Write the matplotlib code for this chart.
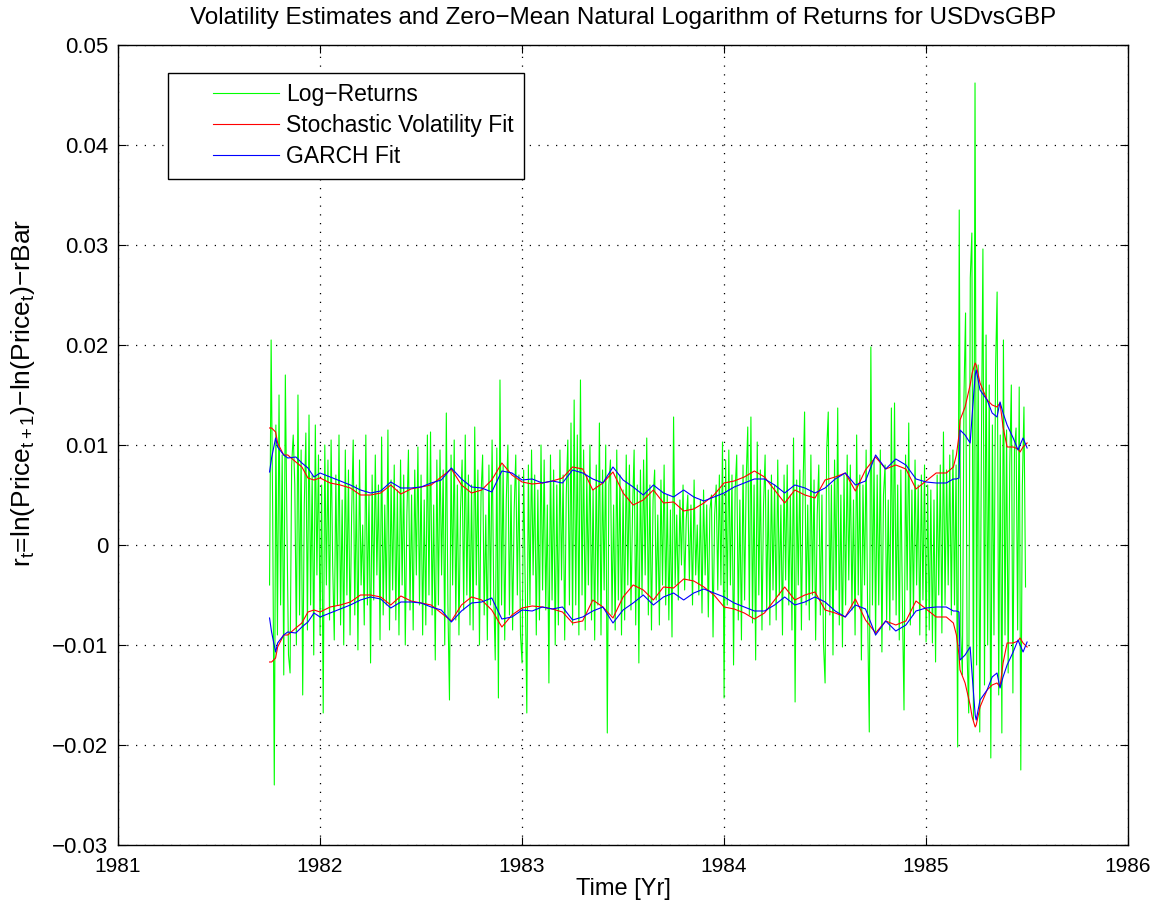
import numpy as np
import matplotlib
matplotlib.use('Agg')
import matplotlib.pyplot as plt
from matplotlib.lines import Line2D
from matplotlib.legend_handler import HandlerLine2D

# log-returns, units of 1e-4, 16 values per 1/8 year starting 1981.75
log_returns = [
    -40, 205, 30, -240, 120, -90, 150, -60, 90, -130, 170, 20, -110, -128, 80, 110,
    60, -100, 150, -70, 95, -150, 40, 112, -85, 130, -60, 70, -110, 120, -30, 90,
    -90, 60, -168, 100, -40, 85, -75, 105, -20, -95, 70, -60, 110, -80, 45, -100,
    95, -50, 75, -90, 30, 105, -70, 60, -105, 85, -40, 20, -80, 110, -60, 50,
    -118, 70, -55, 90, -30, 60, -95, 108, -70, 40, -60, 115, -85, 65, -45, 80,
    -75, 55, -90, 85, -40, 70, -100, 30, 95, -65, 50, -85, 75, -30, 98, -60,
    70, -90, 45, -80, 110, -50, 113, -70, 40, -115, 85, -60, 95, -30, 75, -100,
    132, -60, -155, 90, -40, 105, -75, 60, -90, 35, 85, -65, 110, -50, 70, -80,
    60, -85, 118, -40, 75, -100, 50, 90, -70, 30, -95, 80, -60, 105, -45, -115,
    97, -153, 165, -60, 80, -95, 45, 100, -70, 60, -85, 35, 90, -50, 70, -90,
    -118, 75, -40, -168, 80, -60, 95, -30, 70, -90, 55, -75, 100, -45, 85, -65,
    40, -138, 90, -55, 75, -100, 60, -80, 95, -35, 70, -95, 50, 105, -60, 122,
    -80, 145, -60, 110, -90, 165, -50, 95, -85, 70, -40, 100, -75, 55, -95, 80,
    -60, 122, -90, 75, -45, 100, -188, 60, 85, -70, 40, -85, 95, -55, 70, -90,
    55, -75, 90, -40, 80, -65, 35, 95, -80, 60, -118, 75, -50, 85, -30, 107,
    -70, 60, -85, 45, 75, -55, 30, -80, 65, -40, 80, -60, 50, -75, 35, -92,
    128, -40, 30, -55, 45, -20, 60, -45, 25, 50, -35, 40, -60, 65, -30, 20,
    -50, 45, -68, 55, -30, 40, -72, 35, 50, -92, 30, 60, -45, 70, -40, 103,
    -153, 85, -60, 95, -40, 70, -120, 55, 90, -75, 45, -95, 80, -55, 65, 118,
    -70, 128, -78, 60, -115, 103, -50, 75, -85, 40, 90, -65, 55, -80, 70, -45,
    60, -75, 85, -50, 40, -90, 70, -35, 80, -60, 50, -85, 107, -157, 65, -40,
    75, -85, 55, 133, -60, 40, -75, 90, -50, 65, -95, 30, 80, -70, 50, -100,
    -138, 95, 133, -70, 60, -110, 85, -45, 137, -80, 50, -102, 70, -60, 90, -35,
    80, -65, 45, -90, 110, -50, 70, -115, 60, -40, 95, -75, -187, 198, -60, 85,
    -90, 70, -60, 95, -107, 50, 80, -75, 45, -85, 137, -55, 142, -70, 60, -95,
    75, -60, -165, 90, -45, 122, -80, 55, -70, 85, -40, 60, -90, 70, -55, 80,
    -97, 60, -85, 55, -98, 45, -117, 70, -50, 80, -88, 113, -60, 75, -40, 90,
    -70, 95, -60, 80, -202, 335, -90, -130, 150, 232, -110, -168, 267, 312, -175, 462,
    -120, 180, -187, 90, 296, -140, 210, -100, 160, -213, 120, -90, 175, 253, -150, 110,
    -188, 205, -90, 115, -128, 80, 160, -148, 95, 117, -85, 158, -225, 60, 138, -42,
]

# volatility estimates (one std dev), units of 1e-4
vol_years = [1981.75, 1981.76, 1981.78, 1981.79, 1981.82, 1981.84, 1981.88, 1981.91,
             1981.94, 1981.97, 1982.00, 1982.05, 1982.10, 1982.15, 1982.20, 1982.25,
             1982.30, 1982.35, 1982.40, 1982.45, 1982.50, 1982.55, 1982.60, 1982.65,
             1982.70, 1982.75, 1982.80, 1982.85, 1982.90, 1982.95, 1983.00, 1983.05,
             1983.10, 1983.15, 1983.20, 1983.25, 1983.30, 1983.35, 1983.40, 1983.45,
             1983.50, 1983.55, 1983.60, 1983.65, 1983.70, 1983.75, 1983.80, 1983.85,
             1983.90, 1983.95, 1984.00, 1984.05, 1984.10, 1984.15, 1984.20, 1984.25,
             1984.30, 1984.35, 1984.40, 1984.45, 1984.50, 1984.55, 1984.60, 1984.65,
             1984.70, 1984.75, 1984.80, 1984.85, 1984.90, 1984.95, 1985.00, 1985.05,
             1985.10, 1985.135, 1985.15, 1985.163, 1985.168, 1985.193, 1985.218,
             1985.228, 1985.243, 1985.248, 1985.267, 1985.302, 1985.327, 1985.351,
             1985.366, 1985.381, 1985.401, 1985.431, 1985.455, 1985.465, 1985.48, 1985.50]
sv_fit = [117, 117, 113, 102, 90, 90, 83, 78, 67, 65, 67, 62, 60, 57, 50, 50,
          52, 60, 51, 56, 58, 60, 68, 76, 60, 52, 55, 65, 82, 70, 63, 61,
          62, 64, 67, 78, 76, 55, 62, 73, 52, 40, 45, 55, 42, 43, 34, 36,
          42, 50, 62, 64, 68, 74, 68, 55, 42, 55, 50, 47, 65, 68, 72, 54,
          75, 88, 76, 80, 76, 56, 64, 72, 72, 78, 90, 110, 125, 138, 160,
          172, 182, 180, 162, 145, 140, 138, 142, 118, 98, 98, 96, 93, 98, 102]
garch_fit = [73, 87, 107, 98, 90, 87, 88, 82, 77, 68, 72, 68, 64, 60, 55, 52,
             54, 63, 57, 57, 58, 62, 65, 77, 66, 58, 57, 53, 74, 72, 65, 66,
             62, 64, 62, 75, 72, 66, 62, 78, 65, 58, 50, 60, 52, 48, 55, 48,
             44, 48, 52, 58, 62, 66, 66, 60, 52, 60, 57, 52, 57, 66, 72, 60,
             64, 90, 76, 86, 80, 66, 63, 62, 62, 66, 66, 67, 115, 110, 102,
             130, 170, 175, 155, 145, 132, 128, 143, 132, 120, 107, 95, 100, 107, 97]

r = np.array(log_returns) / 1e4
t = 1981.75 + np.arange(len(r)) * 0.125 / 16
sv = np.array(sv_fit) / 1e4
ga = np.array(garch_fit) / 1e4

plt.rcParams['font.family'] = 'Liberation Sans'
plt.rcParams['mathtext.fontset'] = 'custom'
plt.rcParams['mathtext.rm'] = 'Liberation Sans'
plt.rcParams['mathtext.it'] = 'Liberation Sans:italic'


class ShortLine(HandlerLine2D):
    # legend line drawn only over the right part of the handle box
    def create_artists(self, legend, orig_handle, xdescent, ydescent, width, height, fontsize, trans):
        arts = super().create_artists(legend, orig_handle, xdescent, ydescent, width, height, fontsize, trans)
        for a in arts:
            x = np.asarray(a.get_xdata(), dtype=float)
            if len(x) > 1:
                a.set_xdata(np.linspace(x[0] + 0.34 * (x[-1] - x[0]), x[-1], len(x)))
        return arts


fig = plt.figure(figsize=(11.63, 9.05), dpi=100)
ax = fig.add_axes([0.1015, 0.0663, 0.8685, 0.884])

ax.plot(t, r, color='#00ff00', lw=0.8, label='Log\u2212Returns')
ax.plot(vol_years, sv, color='#ff0000', lw=0.8, label='Stochastic Volatility Fit')
ax.plot(vol_years, -sv, color='#ff0000', lw=0.8)
ax.plot(vol_years, ga, color='#0000ff', lw=0.8, label='GARCH Fit')
ax.plot(vol_years, -ga, color='#0000ff', lw=0.8)

ax.set_xlim(1981, 1986)
ax.set_ylim(-0.03, 0.05)
ax.set_xticks([1981, 1982, 1983, 1984, 1985, 1986])
ax.set_xticklabels(['1981', '1982', '1983', '1984', '1985', '1986'], fontsize=15)
ax.set_yticks(np.arange(-0.03, 0.0501, 0.01))
ax.set_yticklabels(['\u22120.03', '\u22120.02', '\u22120.01', '0', '0.01', '0.02', '0.03', '0.04', '0.05'],
                   fontsize=16)
ax.tick_params(axis='x', pad=9)
ax.tick_params(direction='in', top=True, right=True, length=6, width=0.8)
ax.tick_params(axis='y', pad=7)
ax.grid(True, color='k', ls=(0, (1, 6)), lw=0.9)
for s in ax.spines.values():
    s.set_linewidth(1.0)

ax.set_title('Volatility Estimates and Zero\u2212Mean Natural Logarithm of Returns for USDvsGBP',
             fontsize=17.5, pad=15)
ax.set_xlabel('Time [Yr]', fontsize=17, labelpad=1)
ax.set_ylabel('r$_\\mathregular{t}$=ln(Price$_\\mathregular{t+1}$)\u2212ln(Price$_\\mathregular{t}$)\u2212rBar',
              fontsize=19)
ax.yaxis.set_label_coords(-0.08, 0.565)

leg = ax.legend(loc='upper left', bbox_to_anchor=(0.0495, 0.965), borderaxespad=0,
                fancybox=False, framealpha=1, edgecolor='k', fontsize=16.5,
                handlelength=4.4, handletextpad=0.3, labelspacing=0.35, borderpad=0.45,
                handler_map={Line2D: ShortLine()})
leg.get_frame().set_linewidth(1.0)

fig.savefig('out.png', dpi=100)
